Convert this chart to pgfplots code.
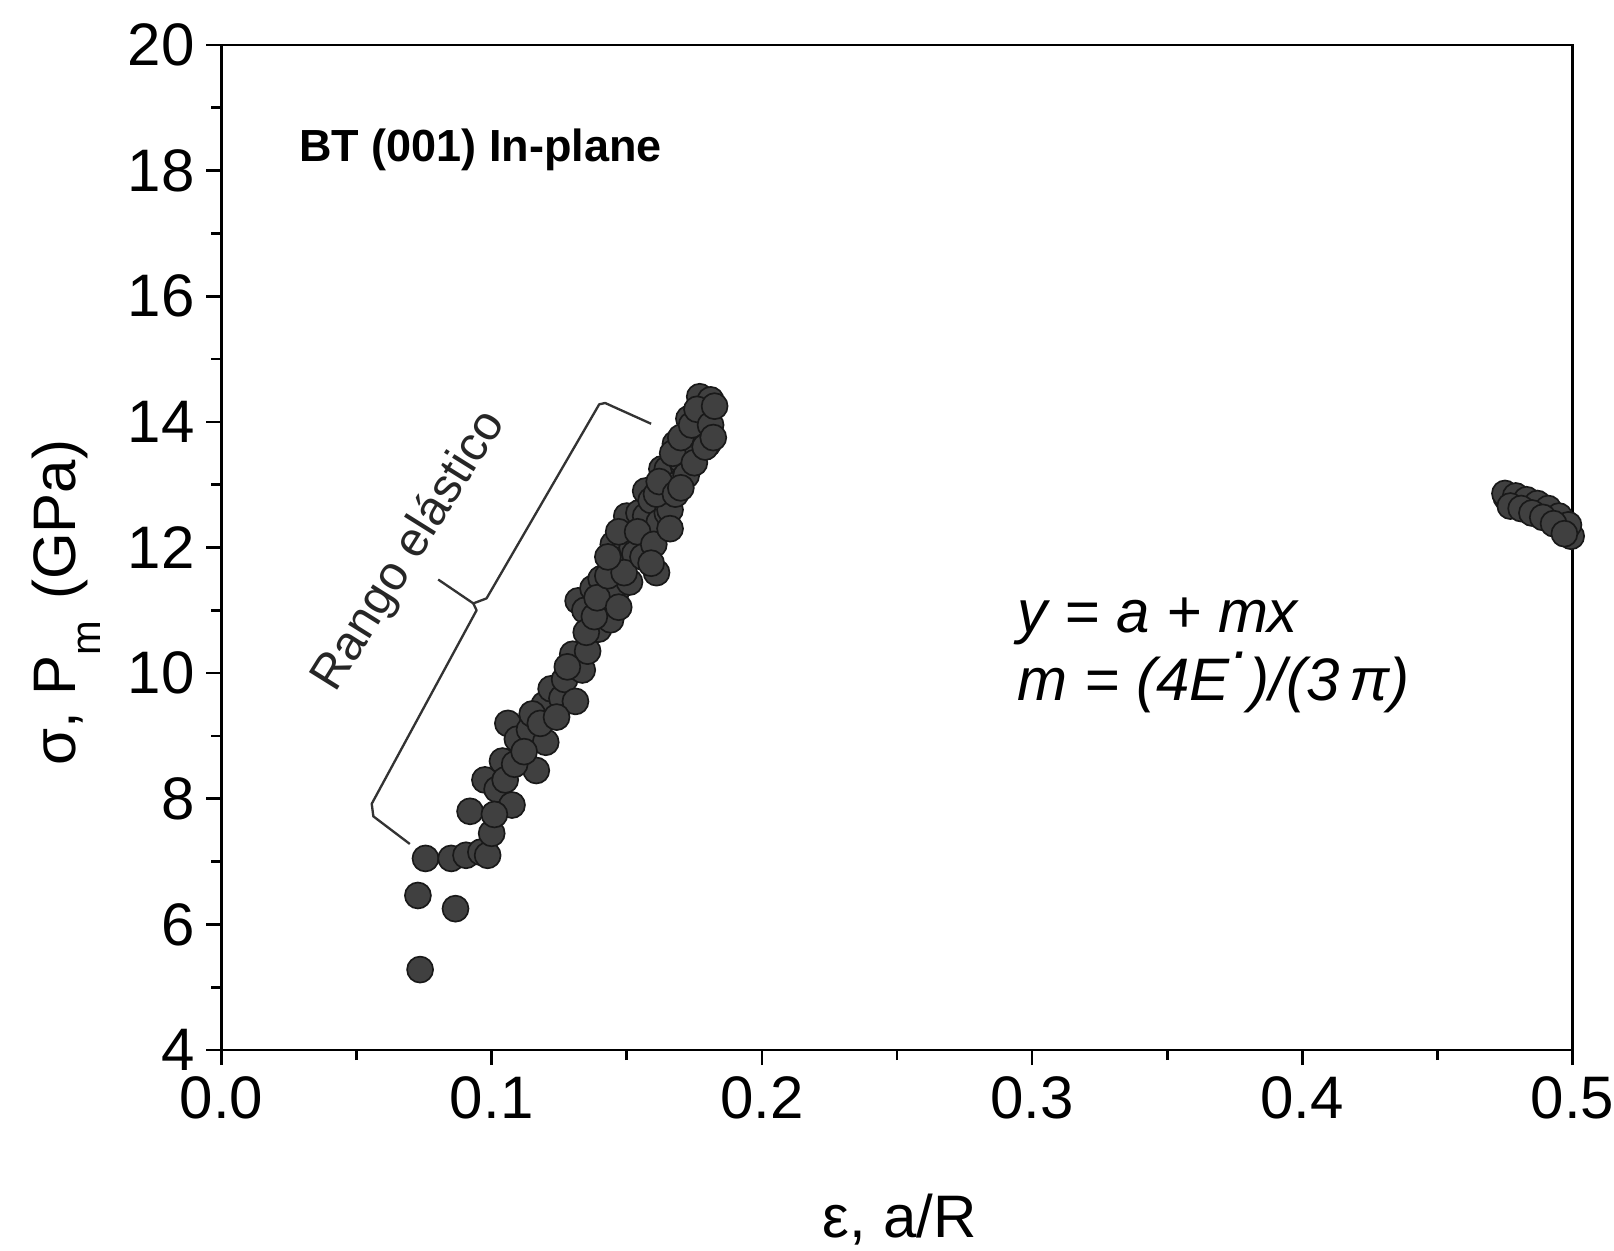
\documentclass[border=0pt]{standalone}
\usepackage{fontspec}
\setmainfont{Liberation Sans}
\usepackage{pgfplots}
\pgfplotsset{compat=1.18}

\begin{document}
\begin{tikzpicture}
\begin{axis}[
  at={(0,0)}, anchor=south west,
  scale only axis, width=405.3pt, height=301.5pt,
  xmin=0, xmax=0.5, ymin=4, ymax=20,
  xtick={0,0.1,0.2,0.3,0.4,0.5},
  xticklabels={0.0,0.1,0.2,0.3,0.4,0.5},
  ytick={4,6,8,10,12,14,16,18,20},
  minor xtick={0.05,0.15,0.25,0.35,0.45},
  minor ytick={5,7,9,11,13,15,17,19},
  tick align=outside,
  xtick pos=bottom, ytick pos=left,
  major tick length=4.5pt, minor tick length=3pt,
  axis line style={line width=0.8pt},
  every tick/.style={line width=0.8pt, black},
  ticklabel style={font=\fontsize{18}{21}\selectfont},
  /pgf/number format/assume math mode=true,
  xlabel={ε, a/R},
  ylabel={σ, P\raisebox{-7.5pt}{\fontsize{12.5}{13}\selectfont m}\hspace{0.35em}(GPa)},
  every axis x label/.style={at={(rel axis cs:0.502,-0.187)}, anchor=base, font=\fontsize{18}{21}\selectfont},
  every axis y label/.style={at={(rel axis cs:-0.1084,0.445)}, anchor=base, rotate=90, font=\fontsize{18}{21}\selectfont},
]
\addplot[only marks, mark=*, mark size=3.9pt, mark options={fill=black!75, draw=black!90, line width=0.5pt}] coordinates {
(0.0735,5.28) (0.0727,6.46) (0.0866,6.25) (0.0755,7.05) (0.0850,7.05)
(0.0905,7.10) (0.0960,7.15) (0.0985,7.10) (0.0920,7.80) (0.1000,7.45)
(0.0975,8.30) (0.1020,8.15) (0.1075,7.90) (0.1040,8.60) (0.1060,9.20)
(0.1095,8.95) (0.1140,9.10) (0.1165,8.45) (0.1200,8.90) (0.1195,9.50)
(0.1220,9.75) (0.1260,9.60) (0.1270,9.90) (0.1300,10.30) (0.1310,9.55)
(0.1335,10.05) (0.1355,10.35) (0.1320,11.15) (0.1345,11.00) (0.1375,11.35)
(0.1395,10.70) (0.1420,10.95) (0.1405,11.50) (0.1440,10.85) (0.1460,11.30)
(0.1450,12.05) (0.1480,11.80) (0.1510,11.45) (0.1520,12.00) (0.1530,11.90)
(0.1500,12.50) (0.1545,12.55) (0.1575,12.20) (0.1570,12.50) (0.1610,11.60)
(0.1570,12.90) (0.1590,12.75) (0.1620,12.40) (0.1650,12.55) (0.1640,12.95)
(0.1660,12.60) (0.1630,13.25) (0.1650,13.25) (0.1685,13.00) (0.1710,13.30)
(0.1700,13.40) (0.1720,13.15) (0.1680,13.65) (0.1735,13.70) (0.1760,13.55)
(0.1730,14.05) (0.1770,14.05) (0.1790,13.80) (0.1800,14.10) (0.1780,14.35)
(0.1770,14.40) (0.1805,14.20) (0.1810,14.35) (0.1800,13.65)
(0.1010,7.75) (0.1050,8.30) (0.1085,8.55) (0.1120,8.75) (0.1150,9.35)
(0.1180,9.20) (0.1240,9.30) (0.1280,10.10) (0.1350,10.65) (0.1380,10.90)
(0.1390,11.20) (0.1430,11.55) (0.1470,11.05) (0.1490,11.60) (0.1430,11.85)
(0.1470,12.25) (0.1540,12.25) (0.1560,11.85) (0.1600,12.05) (0.1590,11.75)
(0.1610,12.85) (0.1660,12.30) (0.1620,13.05) (0.1680,12.85) (0.1700,12.95)
(0.1670,13.50) (0.1700,13.75) (0.1750,13.35) (0.1740,13.95) (0.1760,14.20)
(0.1790,13.60) (0.1810,13.95) (0.1825,14.25) (0.1820,13.75)
};
\addplot[only marks, mark=*, mark size=3.9pt, mark options={fill=black!75, draw=black!90, line width=0.5pt}] coordinates {
(0.4755,12.80) (0.4770,12.74) (0.4785,12.78) (0.4800,12.70) (0.4815,12.74)
(0.4830,12.66) (0.4845,12.70) (0.4860,12.62) (0.4875,12.58) (0.4890,12.60)
(0.4905,12.52) (0.4920,12.50) (0.4935,12.44) (0.4950,12.40) (0.4965,12.34)
(0.4980,12.26) (0.4995,12.18) (0.5010,12.12)
(0.4750,12.86) (0.4790,12.82) (0.4830,12.76) (0.4870,12.70) (0.4910,12.62)
(0.4950,12.50) (0.4985,12.36)
(0.4770,12.66) (0.4810,12.62) (0.4850,12.55) (0.4890,12.48) (0.4930,12.38)
(0.4970,12.22) (0.5005,12.02)
};
\draw[line width=0.7pt, black!80, line join=round]
  (axis cs:0.1590,13.97) -- (axis cs:0.1420,14.30) -- (axis cs:0.1398,14.28)
  -- (axis cs:0.0981,11.19) -- (axis cs:0.0932,11.11) -- (axis cs:0.0802,11.49);
\draw[line width=0.7pt, black!80, line join=round]
  (axis cs:0.0932,11.11) -- (axis cs:0.0944,11.00) -- (axis cs:0.0556,7.92)
  -- (axis cs:0.0562,7.72) -- (axis cs:0.0697,7.28);
\node[rotate=58, font=\fontsize{14.5}{17}\selectfont, text=black!85] at (axis cs:0.0697,11.94) {Rango elástico};
\node[anchor=base west, inner sep=0pt, font=\bfseries\fontsize{13.5}{16}\selectfont] at (axis cs:0.0285,18.14) {BT (001) In-plane};
\node[anchor=base west, inner sep=0pt, font=\itshape\fontsize{18}{21}\selectfont] at (axis cs:0.2945,10.64) {y = a + mx};
\node[anchor=base west, inner sep=0pt, font=\itshape\fontsize{18}{21}\selectfont] at (axis cs:0.2945,9.57) {m = (4E\raisebox{8.5pt}{·})/(3\,π)};
\end{axis}
\pgfresetboundingbox
\path (-66.45pt,-60pt) rectangle (417.75pt,315pt);
\end{tikzpicture}
\end{document}
